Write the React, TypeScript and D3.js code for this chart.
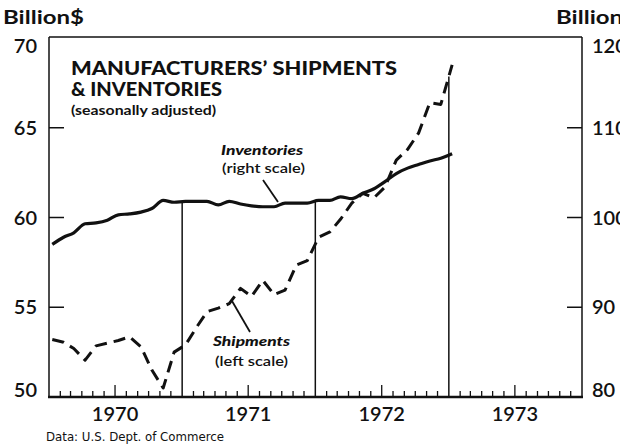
import { useEffect } from "react";
import * as d3 from "d3";

// monthly observations, seasonally adjusted
const months = [
  "1970-01", "1970-02", "1970-03", "1970-04", "1970-05", "1970-06",
  "1970-07", "1970-08", "1970-09", "1970-10", "1970-11", "1970-12",
  "1971-01", "1971-02", "1971-03", "1971-04", "1971-05", "1971-06",
  "1971-07", "1971-08", "1971-09", "1971-10", "1971-11", "1971-12",
  "1972-01", "1972-02", "1972-03", "1972-04", "1972-05", "1972-06",
  "1972-07", "1972-08", "1972-09", "1972-10", "1972-11", "1972-12",
  "1973-01",
];

// billion $, left scale
const shipments = [
  53.2, 53.05, 52.7, 52.05, 52.85, 53.0, 53.15, 53.35, 52.8, 51.5, 50.5, 52.5,
  52.9, 53.9, 54.75, 54.95, 55.2, 56.05, 55.6, 56.5, 55.7, 55.95, 57.35, 57.6,
  58.9, 59.2, 59.9, 60.8, 61.35, 61.1, 61.7, 63.2, 63.8, 64.7, 66.4, 66.3,
  68.5,
];

// billion $, right scale
const inventories = [
  97.0, 97.8, 98.3, 99.3, 99.4, 99.7, 100.3, 100.4, 100.6, 101.0, 101.9, 101.7,
  101.8, 101.8, 101.8, 101.4, 101.8, 101.5, 101.3, 101.2, 101.2, 101.6, 101.6, 101.6,
  101.9, 101.9, 102.3, 102.1, 102.7, 103.2, 104.0, 104.9, 105.5, 105.9, 106.3, 106.6,
  107.1,
];

const leftTicks = [50, 55, 60, 65, 70];
const rightTicks = [80, 90, 100, 110, 120];
const years = ["1970", "1971", "1972", "1973"];

const FONT = "Lato, 'Open Sans', 'DejaVu Sans', sans-serif";
const INK = "#111";

const parseMonth = d3.timeParse("%Y-%m");

export default function App() {
  useEffect(() => {
    document.body.style.margin = "0";
  }, []);

  const left = 49;
  const right = 582;
  const top = 38;
  const bottom = 397;

  const x = d3
    .scaleTime()
    .domain([new Date(1970, 0, 1), new Date(1974, 0, 1)])
    .range([left, right]);
  const yL = d3.scaleLinear().domain([50, 70]).range([bottom, top]);
  const yR = d3.scaleLinear().domain([80, 120]).range([bottom, top]);

  // plot each month a few days in
  const dates = months.map((m) => d3.timeDay.offset(parseMonth(m) as Date, 9));

  const shipLine = d3
    .line<number>()
    .x((_, i) => x(dates[i]))
    .y((d) => yL(d));
  const invLine = d3
    .line<number>()
    .x((_, i) => x(dates[i]))
    .y((d) => yR(d))
    .curve(d3.curveMonotoneX);

  const interp = (vals: number[], date: Date) => {
    const i = d3.bisector((d: Date) => d).right(dates, date);
    const a = Math.max(0, i - 1);
    const b = Math.min(dates.length - 1, i);
    if (a === b) return vals[a];
    const t = (+date - +dates[a]) / (+dates[b] - +dates[a]);
    return vals[a] + (vals[b] - vals[a]) * t;
  };

  const yearStarts = years.map((y) => new Date(+y, 0, 1));
  const dividers = yearStarts.slice(1).map((d) => ({
    x: x(d),
    y: Math.min(yL(interp(shipments, d)), yR(interp(inventories, d))),
  }));

  const monthTicks = x.ticks(d3.timeMonth.every(1)!).filter((d) => d.getMonth() !== 0);
  const clampY = (v: number) => Math.min(Math.max(v, 46), 390);

  return (
    <svg width={620} height={445} style={{ display: "block", background: "#fff" }}>
      {/* frame */}
      <line x1={left} x2={right} y1={top - 1} y2={top - 1} stroke={INK} strokeWidth={1.5} />
      <line x1={left} x2={left} y1={top - 1} y2={bottom} stroke={INK} strokeWidth={1.5} />
      <line x1={right} x2={right} y1={top - 1} y2={bottom} stroke={INK} strokeWidth={1.5} />
      <line x1={left - 1} x2={right + 1} y1={bottom} y2={bottom} stroke={INK} strokeWidth={2.5} />

      {/* month ticks, taller at mid-year */}
      {monthTicks.map((d, i) => (
        <line
          key={i}
          x1={x(d)}
          x2={x(d)}
          y1={bottom}
          y2={bottom - (d.getMonth() === 6 ? 12 : 6)}
          stroke={INK}
          strokeWidth={1.3}
        />
      ))}

      {/* year dividers */}
      {dividers.map((d, i) => (
        <line key={i} x1={d.x} x2={d.x} y1={bottom} y2={d.y} stroke={INK} strokeWidth={1.5} />
      ))}

      {/* left axis */}
      {leftTicks.map((v) => (
        <g key={v}>
          {v > 50 && v < 70 && (
            <line x1={left} x2={left + 15} y1={yL(v)} y2={yL(v)} stroke={INK} strokeWidth={1.5} />
          )}
          <text
            x={37}
            y={clampY(yL(v))}
            dy="0.36em"
            textAnchor="end"
            fontFamily={FONT}
            fontWeight={600}
            fontSize={20}
            fill={INK}
          >
            {v}
          </text>
        </g>
      ))}

      {/* right axis */}
      {rightTicks.map((v) => (
        <g key={v}>
          {v > 80 && v < 120 && (
            <line x1={right - 15} x2={right} y1={yR(v)} y2={yR(v)} stroke={INK} strokeWidth={1.5} />
          )}
          <text
            x={592}
            y={clampY(yR(v))}
            dy="0.36em"
            fontFamily={FONT}
            fontWeight={600}
            fontSize={20}
            fill={INK}
          >
            {v}
          </text>
        </g>
      ))}

      <text x={3} y={24} fontFamily={FONT} fontWeight={700} fontSize={19} fill={INK} textLength={81} lengthAdjust="spacingAndGlyphs">
        Billion$
      </text>
      <text x={556} y={24} fontFamily={FONT} fontWeight={700} fontSize={19} fill={INK} textLength={81} lengthAdjust="spacingAndGlyphs">
        Billion$
      </text>

      {/* year labels */}
      {yearStarts.map((d, i) => (
        <text
          key={i}
          x={x(new Date(d.getFullYear(), 6, 1))}
          y={421}
          textAnchor="middle"
          fontFamily={FONT}
          fontWeight={600}
          fontSize={20}
          fill={INK}
        >
          {years[i]}
        </text>
      ))}

      {/* series */}
      <path d={invLine(inventories) || ""} fill="none" stroke={INK} strokeWidth={3.2} strokeLinejoin="round" />
      <path
        d={shipLine(shipments) || ""}
        fill="none"
        stroke={INK}
        strokeWidth={3}
        strokeDasharray="12,7"
        strokeLinejoin="round"
      />

      {/* title */}
      <text x={71} y={75} fontFamily={FONT} fontWeight={900} fontSize={19} fill={INK} textLength={326} lengthAdjust="spacingAndGlyphs">
        MANUFACTURERS’ SHIPMENTS
      </text>
      <text x={71} y={96} fontFamily={FONT} fontWeight={900} fontSize={19} fill={INK} textLength={151} lengthAdjust="spacingAndGlyphs">
        &amp; INVENTORIES
      </text>
      <text x={71} y={115} fontFamily={FONT} fontWeight={700} fontSize={13} fill={INK} textLength={145} lengthAdjust="spacingAndGlyphs">
        (seasonally adjusted)
      </text>

      {/* annotations */}
      <text x={221} y={155} fontFamily={FONT} fontWeight={900} fontStyle="italic" fontSize={14} fill={INK} textLength={82} lengthAdjust="spacingAndGlyphs">
        Inventories
      </text>
      <text x={222} y={173} fontFamily={FONT} fontWeight={600} fontSize={14} fill={INK} textLength={83} lengthAdjust="spacingAndGlyphs">
        (right scale)
      </text>
      <line x1={263} y1={180} x2={278} y2={202} stroke={INK} strokeWidth={1.8} />

      <text x={213} y={346} fontFamily={FONT} fontWeight={900} fontStyle="italic" fontSize={14} fill={INK} textLength={77} lengthAdjust="spacingAndGlyphs">
        Shipments
      </text>
      <text x={215} y={366} fontFamily={FONT} fontWeight={600} fontSize={14} fill={INK} textLength={73} lengthAdjust="spacingAndGlyphs">
        (left scale)
      </text>
      <line x1={250} y1={332} x2={232} y2={301} stroke={INK} strokeWidth={1.8} />

      <text
        x={46}
        y={441}
        fontFamily="'Liberation Sans Narrow', 'DejaVu Sans Condensed', sans-serif"
        fontSize={12}
        fill={INK}
        textLength={178}
        lengthAdjust="spacingAndGlyphs"
      >
        Data:  U.S. Dept. of Commerce
      </text>
    </svg>
  );
}
